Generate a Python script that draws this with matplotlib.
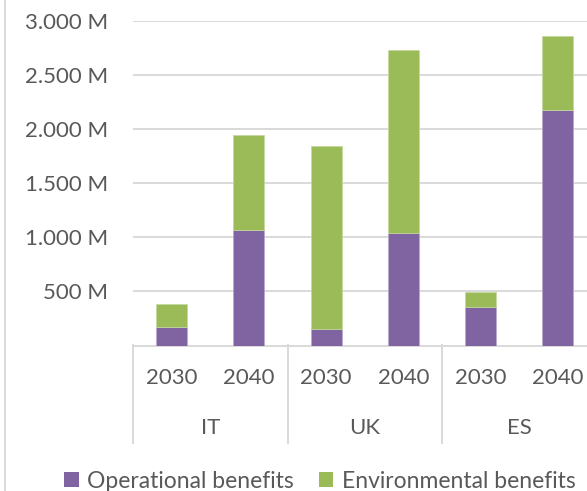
import matplotlib
matplotlib.use("Agg")
import matplotlib.pyplot as plt
from matplotlib.lines import Line2D
from matplotlib.patches import Patch
from matplotlib.transforms import blended_transform_factory

# Benefits per country and horizon year (millions)
countries = ["IT", "UK", "ES"]
years = ["2030", "2040"]
operational = [175, 1065, 150, 1040, 360, 2170]
environmental = [210, 880, 1695, 1685, 135, 685]
y_ticks = [500, 1000, 1500, 2000, 2500, 3000]
series_names = ["Operational benefits", "Environmental benefits"]

PURPLE = "#8064A2"
GREEN = "#9BBB59"
GRID = "#D9D9D9"
TEXT = "#595959"

plt.rcParams["font.family"] = ["Lato", "DejaVu Sans"]

W, H = 587, 491
fig = plt.figure(figsize=(W / 100, H / 100), dpi=100)

def fx(px):
    return px / W

def fy(py):
    return 1 - py / H

left_px, right_px, top_px, bottom_px = 133, 596.5, 20.5, 345.5
ax = fig.add_axes([fx(left_px), fy(bottom_px), fx(right_px - left_px), (bottom_px - top_px) / H])

positions = list(range(len(operational)))
ax.bar(positions, operational, width=0.40, color=PURPLE, edgecolor="#B9A9CC", linewidth=0.5, zorder=3)
ax.bar(positions, environmental, bottom=operational, width=0.40, color=GREEN,
       edgecolor="#C6D9A0", linewidth=0.5, zorder=3)

ax.set_xlim(-0.5, len(positions) - 0.5)
ax.set_ylim(0, 3000)
ax.set_yticks(y_ticks)
ax.set_yticklabels([f"{v:,}".replace(",", ".") + " M" for v in y_ticks])
ax.tick_params(axis="y", length=0, pad=18, labelsize=16, labelcolor=TEXT)
ax.set_xticks([])
ax.grid(axis="y", color=GRID, linewidth=1.4, zorder=0)
for s in ["left", "right", "top"]:
    ax.spines[s].set_visible(False)
ax.spines["bottom"].set_color(GRID)
ax.spines["bottom"].set_linewidth(1.4)

# Two-level category axis: years, then countries, with group separators
trans = blended_transform_factory(ax.transData, fig.transFigure)
for i, p in enumerate(positions):
    ax.text(p, fy(378), years[i % 2], transform=trans, ha="center", va="center",
            fontsize=16, color=TEXT)
for g, c in enumerate(countries):
    ax.text(2 * g + 0.5, fy(428), c, transform=trans, ha="center", va="center",
            fontsize=16, color=TEXT)
for xb in [-0.5, 1.5, 3.5, 5.5]:
    ax.add_line(Line2D([xb, xb], [fy(345), fy(443)], transform=trans, color=GRID,
                       linewidth=1.4, clip_on=False))

# Chart-area border on the left
fig.add_artist(Line2D([fx(5), fx(5)], [0, 1], transform=fig.transFigure, color=GRID, linewidth=1.4))

handles = [Patch(facecolor=PURPLE), Patch(facecolor=GREEN)]
fig.legend(handles, series_names, loc="center", bbox_to_anchor=(fx(319.5), fy(481)),
           ncol=2, frameon=False, fontsize=16.5, labelcolor=TEXT,
           handlelength=0.65, handleheight=0.65, handletextpad=0.35, columnspacing=1.1,
           borderaxespad=0, borderpad=0)

fig.savefig("out.png", dpi=100)
